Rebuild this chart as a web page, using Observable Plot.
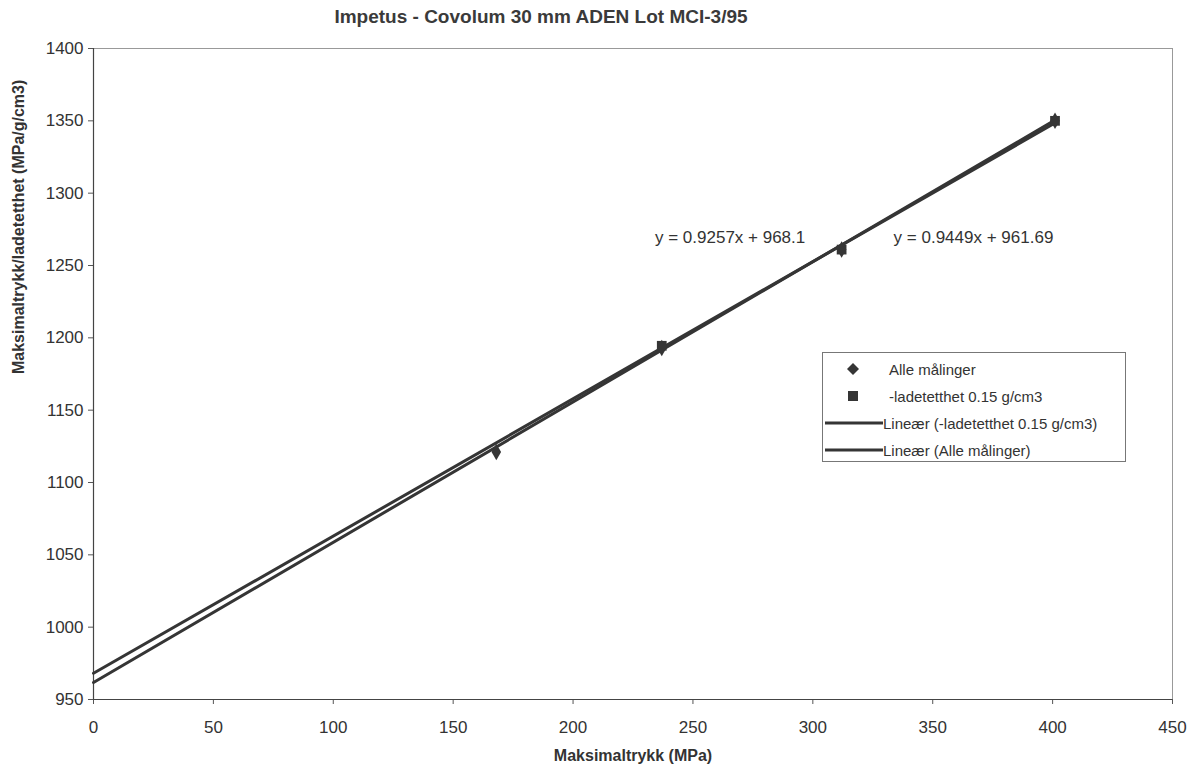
<!DOCTYPE html>
<html>
<head>
<meta charset="utf-8">
<script src="https://cdn.jsdelivr.net/npm/d3@7"></script>
<script src="https://cdn.jsdelivr.net/npm/@observablehq/plot@0.6"></script>
<style>
  html, body { margin: 0; padding: 0; background: #fff; }
  body { width: 1202px; height: 766px; position: relative; overflow: hidden; font-family: "Liberation Sans", Arial, sans-serif; color: #333; }
  #title { position: absolute; top: 6px; left: 0; width: 1082px; text-align: center; font-weight: bold; font-size: 19px; color: #3a3a3a; }
  #chart { position: absolute; top: 36px; left: 0; }
  #legend { position: absolute; left: 822px; top: 352px; width: 302px; height: 108px; border: 1px solid #777; background: #fff; font-size: 15px; color: #333; }
  .row { position: absolute; left: 0; height: 24px; display: flex; align-items: center; white-space: nowrap; }
  .row svg { flex: none; }
</style>
</head>
<body>
<div id="title">Impetus - Covolum 30 mm ADEN Lot MCI-3/95</div>
<div id="chart"></div>
<div id="legend"></div>
<script>
// Data
const titleText = "Impetus - Covolum 30 mm ADEN Lot MCI-3/95";
const xLabel = "Maksimaltrykk (MPa)";
const yLabel = "Maksimaltrykk/ladetetthet (MPa/g/cm3)";
const xTicks = [0, 50, 100, 150, 200, 250, 300, 350, 400, 450];
const yTicks = [950, 1000, 1050, 1100, 1150, 1200, 1250, 1300, 1350, 1400];

// "Alle målinger" (diamonds)
const allX = [168, 237, 312, 401];
const allY = [1121, 1193, 1261, 1350];
// "-ladetetthet 0.15 g/cm3" (squares)
const densX = [237, 312, 401];
const densY = [1194.5, 1261, 1350];

// Trendline endpoints as drawn
const trendAllX = [0, 401];
const trendAllY = [968.1, 1348.5];
const trendDensX = [0, 401];
const trendDensY = [961.7, 1350.5];

// Equation labels
const eqText = ["y = 0.9257x + 968.1", "y = 0.9449x + 961.69"];
const eqX = [265.5, 367];
const eqY = [1269.5, 1269];

const legendLabels = ["Alle målinger", "-ladetetthet 0.15 g/cm3", "Lineær (-ladetetthet 0.15 g/cm3)", "Lineær (Alle målinger)"];

const ink = "#353535";
const allPts = allX.map((x, i) => ({x, y: allY[i]}));
const densPts = densX.map((x, i) => ({x, y: densY[i]}));
const tAll = trendAllX.map((x, i) => ({x, y: trendAllY[i]}));
const tDens = trendDensX.map((x, i) => ({x, y: trendDensY[i]}));
const eqs = eqText.map((t, i) => ({t, x: eqX[i], y: eqY[i]}));

const chart = Plot.plot({
  width: 1202,
  height: 730,
  marginTop: 12,
  marginLeft: 93,
  marginRight: 30,
  marginBottom: 67,
  style: {fontFamily: "'Liberation Sans', Arial, sans-serif", fontSize: "17px", color: "#333", background: "#fff", overflow: "visible"},
  x: {domain: [0, 450]},
  y: {domain: [950, 1400]},
  marks: [
    Plot.frame({stroke: "#999", strokeWidth: 1}),
    Plot.axisX({ticks: xTicks, tickFormat: d => String(d), tickSize: 5, tickPadding: 16, label: null, fontSize: 17, stroke: "#555"}),
    Plot.axisY({ticks: yTicks, tickFormat: d => String(d), tickSize: 5, tickPadding: 5, label: null, fontSize: 17, stroke: "#555"}),
    Plot.ruleX([0], {stroke: "#444", strokeWidth: 1.2}),
    Plot.ruleY([950], {stroke: "#444", strokeWidth: 1.2}),
    Plot.line(tDens, {x: "x", y: "y", stroke: ink, strokeWidth: 3}),
    Plot.line(tAll, {x: "x", y: "y", stroke: ink, strokeWidth: 3}),
    Plot.dot(allPts, {x: "x", y: "y", symbol: "diamond", r: 5, fill: ink}),
    Plot.dot(densPts, {x: "x", y: "y", symbol: "square", r: 5.5, fill: ink}),
    Plot.text(eqs, {x: "x", y: "y", text: "t", fontSize: 17, fill: "#333"}),
    Plot.text([yLabel], {frameAnchor: "left", dx: -75, rotate: -90, fontSize: 16, fontWeight: "bold", fill: "#333"}),
    Plot.text([xLabel], {frameAnchor: "bottom", dy: 56, lineAnchor: "middle", fontSize: 16, fontWeight: "bold", fill: "#333"})
  ]
});
document.getElementById("chart").appendChild(chart);

// Legend
const legend = document.getElementById("legend");
const swatches = [
  '<svg width="60" height="20"><path d="M30,4 L36,10 L30,16 L24,10Z" fill="' + ink + '"/></svg>',
  '<svg width="60" height="20"><rect x="25" y="5" width="10" height="10" fill="' + ink + '"/></svg>',
  '<svg width="60" height="20"><line x1="2" y1="10" x2="60" y2="10" stroke="' + ink + '" stroke-width="3"/></svg>',
  '<svg width="60" height="20"><line x1="2" y1="10" x2="60" y2="10" stroke="' + ink + '" stroke-width="3"/></svg>'
];
const rowTops = [4, 31, 58, 85];
const textOffsets = [6, 6, 0, 0];
legendLabels.forEach((lab, i) => {
  const row = document.createElement("div");
  row.className = "row";
  row.style.top = rowTops[i] + "px";
  row.innerHTML = swatches[i] + '<span style="margin-left:' + textOffsets[i] + 'px">' + lab + '</span>';
  legend.appendChild(row);
});
</script>
</body>
</html>
